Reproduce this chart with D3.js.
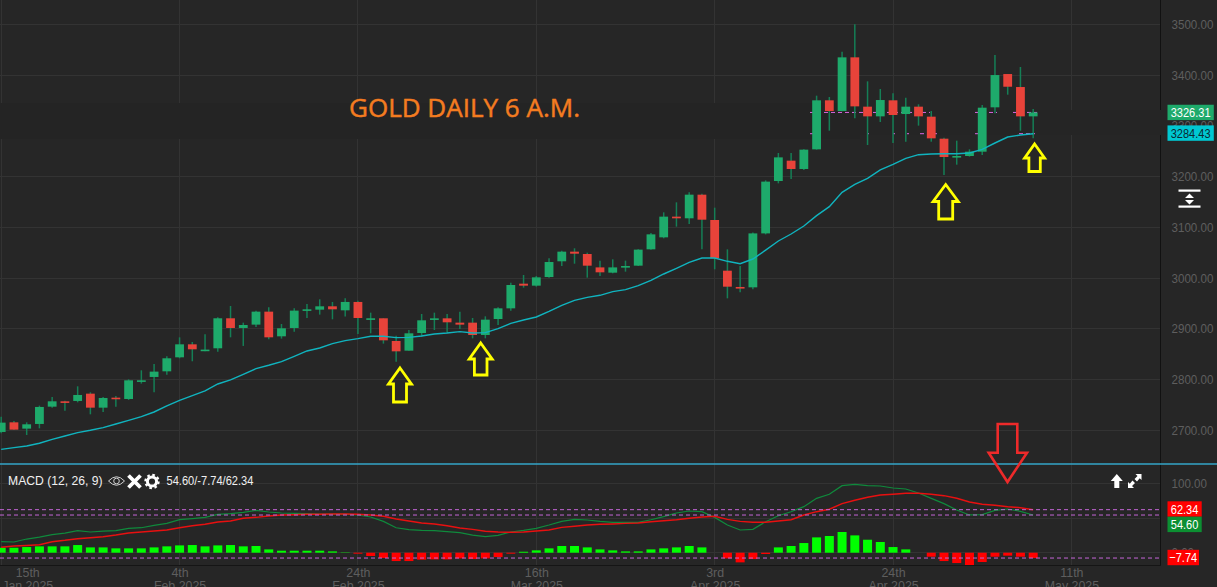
<!DOCTYPE html>
<html lang="en">
<head>
    <meta charset="UTF-8">
    <title>Gold Daily</title>
    <script src="https://cdn.jsdelivr.net/npm/d3@7/dist/d3.min.js"></script>
    <style>
        html, body { margin: 0; padding: 0; background: #262626; overflow: hidden; }
        svg { display: block; }
        text { font-family: "Liberation Sans", Arial, sans-serif; }
    </style>
</head>
<body>
<script>
    // candles
    var opens = [2696.7,2715.7,2703.3,2712.5,2746.6,2757.1,2757.8,2772.2,2744.6,2764.3,
        2761.7,2797.2,2805.1,2816.2,2843.8,2869.4,2857,2861.6,2920.7,2901.6,
        2908.2,2933.8,2885.2,2901.6,2936.4,2937.7,2944.3,2936.4,2952.9,2918.7,
        2920.7,2876,2856.9,2891.7,2918,2920.6,2912.1,2912.1,2887.8,2919.3,
        2940.3,2988.9,2985,3002,3033,3052,3047.4,3021,3010.6,3021.8,
        3024.4,3056.6,3080.2,3121,3117.7,3164.3,3114.4,3014.5,2982.4,2981.7,
        3088,3191.2,3231.3,3214.9,3253.6,3350.2,3329.1,3434.9,3337.7,3318.6,
        3350.2,3323.2,3337.7,3318,3274.6,3238.5,3240.5,3249,3336.4,3402,
        3376.4,3318.6];
    var closes = [2715.1,2701.3,2711.8,2746,2757.1,2755.1,2769.6,2744.6,2763.7,2762.4,
        2798.5,2798.5,2815.6,2841.9,2869.4,2859.6,2859,2920.7,2901.6,2907.5,
        2933.8,2883.2,2901,2935.8,2938.4,2944.3,2938.4,2952.9,2921.3,2920.7,
        2877.3,2855.6,2891.1,2916.7,2920.6,2912.8,2908.2,2887.8,2918,2940.3,
        2986.3,2985,3001.4,3031.6,3052,3048,3024.4,3011.3,3021,3023.7,
        3056,3086.1,3121,3117.7,3164.3,3115,3038.9,2983,2980.4,3088,
        3190,3237.8,3214.9,3253,3350.2,3329.1,3434.9,3338.3,3318.6,3350.8,
        3321.3,3337.7,3318.6,3275.3,3238.5,3240.5,3249,3335.7,3400,3377,
        3318.6,3326.31];
    var highs = [2726.9,2718.4,2715.7,2748.6,2765.7,2758.4,2786.7,2774.9,2765.7,2767.6,
        2800.5,2818.2,2830.7,2845.8,2883.2,2874,2889.1,2922.6,2945,2912.1,
        2935.8,2942.3,2909.5,2940.4,2948.9,2958.1,2952.9,2960.1,2955.5,2931.8,
        2920.7,2886.5,2897.6,2929.2,2931.8,2929.2,2933.8,2921.3,2924.6,2942.3,
        2990.9,3006,3004,3038.9,3054,3058.6,3050,3034.3,3036.9,3034.3,
        3056.6,3088.8,3129.5,3149.2,3168.9,3166.3,3138.7,3056.6,3023.7,3090,
        3192.5,3246.4,3246.4,3253.6,3359.4,3356.7,3446,3499.9,3387.6,3372.5,
        3364,3355.4,3342.3,3329.1,3276.6,3270.7,3253.6,3341,3439.5,3402,
        3415.8,3333];
    var lows = [2694.1,2701.3,2690.8,2703.9,2744.6,2738.7,2755.1,2731.5,2736.1,2746.6,
        2759.8,2792,2774.9,2809.7,2841.9,2836,2855.6,2855,2883.2,2866.2,
        2903.6,2879.3,2880.6,2894.4,2921.3,2927.9,2918.7,2924,2889.8,2891.1,
        2870.8,2835.3,2856.9,2884.5,2897.6,2892.4,2899.6,2881.2,2881.2,2907.5,
        2935.7,2981.1,2983,3000.8,3023.7,3028.3,3000.8,3004,3009.3,3012.6,
        3023.7,3056,3078.3,3101.3,3106.5,3056.6,3017.2,2960,2971.9,2978,
        3086,3186.6,3195.2,3212.9,3253,3290.4,3328.5,3314.7,3262.2,3307.5,
        3266.1,3268.7,3300.3,3268.7,3203,3223.4,3239.2,3242.4,3324.5,3361.3,
        3290.4,3275.3];
    var maValues = [2662.5,2665.8,2669.1,2674.4,2682.2,2688.8,2695.4,2700,2705.2,2712.5,
        2719.7,2726.9,2736.1,2747.9,2759.1,2768.3,2777.5,2791.3,2799.2,2810.3,
        2821.5,2828.1,2835.3,2845.8,2856.3,2862.2,2870.8,2876.7,2880.6,2885.2,
        2885.2,2882.6,2883.2,2885.8,2889.8,2891.7,2894.4,2891.7,2892.4,2900.3,
        2910.8,2917.4,2923.3,2934.4,2946.2,2956.1,2962,2966,2973.2,2977.1,
        2985,2995.5,3008,3019.2,3031,3039.5,3039.5,3033,3028.3,3037.5,
        3055,3073,3086.8,3102.6,3122.9,3140.6,3169,3184.6,3196.5,3213,
        3224,3235.9,3243.1,3244.4,3245,3245,3246.4,3253.6,3266.1,3277.9,
        3281.9,3284.43];

    // MACD panel
    var macdLine = [16,15.5,19.8,22.7,26.1,28.5,31.9,30,31.4,31.9,
        35.3,36.2,39.6,42.5,47.8,49.3,51.2,55.6,56.5,58.5,
        61.4,59,57.5,57,56.5,56,56,56,54.6,51.7,
        45.4,36.2,33.4,32.4,31.9,30.5,29,25.6,23.2,25.1,
        30,32.4,35.3,40.1,45.4,48.3,47.4,45.4,44,44,
        44,47.8,52.2,57.5,60.4,59.4,51.2,40.1,32.9,33.8,
        44.9,53.6,59.4,66.7,78.8,84.6,97.2,99.1,97.2,96.7,
        93.8,92.3,86.5,78.8,71.1,61.9,54.7,55.1,61.4,63.3,
        60,54.6];
    var signalLine = [7.8,9.7,10.6,11.6,16,17.9,20.3,21.8,23.2,25.6,
        28.5,30,31.4,32.9,36.2,39.2,41.1,44.5,45.9,49.8,
        51.2,53.2,54.6,55.1,55.6,55.6,56,56,55.6,54.6,
        52.7,48.8,45.9,43,41.6,39.2,35.8,33.8,31,30,
        29.5,30,31.4,32.9,36.7,38.2,40.1,41.1,41.6,42.5,
        43,44.9,46.4,47.8,49.8,51.7,52.7,48.3,45.4,44,
        44,45.9,47.8,54.7,59.5,62.9,71.1,75.9,80.3,83.6,
        84.6,86,86,84.6,82.7,78.8,73.5,70.1,68.7,66.7,
        65.3,62.34];
    var histogram = [7.2,7.2,8.2,9.2,9.2,9.2,11.1,7.7,7.7,6.3,
        6.3,6.3,7.7,9.2,10.6,11.1,9.2,10.6,11.1,9.2,
        9.7,4.8,2.9,2.9,2.9,2.9,1.9,0.5,-1.4,-4.8,
        -7.7,-12.1,-12.1,-10.1,-9.7,-9.7,-8.2,-9.2,-8.2,-6.3,
        -1.4,1.4,3.4,6.3,9.7,9.7,7.7,4.8,3.4,1.9,
        1.9,4.8,6.3,7.7,9.7,7.7,0,-8.2,-14,-9.2,
        -1.9,7.7,9.7,14,22.2,24.2,30,25.1,18.8,15.5,
        8.2,4.8,0,-5.8,-12.1,-15,-17.9,-13.5,-5.8,-4.3,
        -5.8,-7.74];

    var priceTicks = [2700,2800,2900,3000,3100,3200,3300,3400,3500];
    var macdGrid = [0,50,100];
    var macdLabels = [0,100];
    var dateTickIndex = [0,14,28,42,56,70,84];
    var dateTickDay = ["15th","4th","24th","16th","3rd","24th","11th"];
    var dateTickMonth = ["Jan 2025","Feb 2025","Feb 2025","Mar 2025","Apr 2025","Apr 2025","May 2025"];
    var lastClose = 3326.31, lastMa = 3284.43;
    var macdLast = 54.60, signalLast = 62.34, histLast = -7.74;

    var width = 1217, height = 587;
    var plotRight = 1160.5, panelBottom = 565;

    var svg = d3.select("body").append("svg")
        .attr("width", width)
        .attr("height", height);

    var x = d3.scaleLinear().domain([0, 84]).range([1.2, 1071.4]);
    var y = d3.scaleLinear().domain([2700, 3500]).range([430.3, 24.3]);
    var yMacd = d3.scaleLinear().domain([0, 100]).range([552.7, 483.7]);

    // the source screenshot is stretched a little in height, so text is narrowed to fit
    function squeeze(sel, ratio) {
        sel.each(function () {
            this.setAttribute("textLength", this.getComputedTextLength() * ratio);
            this.setAttribute("lengthAdjust", "spacingAndGlyphs");
        });
    }

    svg.append("rect").attr("width", width).attr("height", height).attr("fill", "#262626");

    // grid
    var grid = svg.append("g").attr("stroke", "#333333").attr("shape-rendering", "crispEdges");
    grid.selectAll(".vgrid").data(dateTickIndex).enter().append("line")
        .attr("x1", function (d) { return x(d); })
        .attr("x2", function (d) { return x(d); })
        .attr("y1", 0).attr("y2", panelBottom);
    grid.selectAll(".pgrid").data(priceTicks).enter().append("line")
        .attr("x1", 0).attr("x2", plotRight)
        .attr("y1", function (d) { return y(d); })
        .attr("y2", function (d) { return y(d); });
    grid.selectAll(".mgrid").data(macdGrid).enter().append("line")
        .attr("x1", 0).attr("x2", plotRight)
        .attr("y1", function (d) { return yMacd(d); })
        .attr("y2", function (d) { return yMacd(d); });

    // axis frame
    svg.append("line").attr("x1", plotRight).attr("x2", plotRight).attr("y1", 0).attr("y2", panelBottom)
        .attr("stroke", "#111111").attr("shape-rendering", "crispEdges");
    svg.append("line").attr("x1", 0).attr("x2", plotRight).attr("y1", panelBottom).attr("y2", panelBottom)
        .attr("stroke", "#151515").attr("shape-rendering", "crispEdges");

    // dark patches painted over the grid in the original screenshot
    svg.append("rect").attr("x", 0).attr("y", 103).attr("width", 860).attr("height", 36).attr("fill", "#242424");
    svg.append("rect").attr("x", 860).attr("y", 110).attr("width", 310).attr("height", 25).attr("fill", "#252525");

    // what is left of the two price level lines
    var closeLevelParts = [[810, 930], [975, 997], [1013, 1037]];
    var maLevelParts = [[810, 823], [867, 869], [893, 895], [907, 909], [920, 937], [975, 988], [1019, 1035]];
    function levelParts(parts, value) {
        svg.append("g").selectAll("line").data(parts).enter().append("line")
            .attr("x1", function (d) { return d[0]; })
            .attr("x2", function (d) { return d[1]; })
            .attr("y1", y(value)).attr("y2", y(value))
            .attr("stroke", "#d866e0").attr("stroke-dasharray", "4,3");
    }
    levelParts(closeLevelParts, lastClose);
    levelParts(maLevelParts, lastMa);

    // axes
    var priceAxis = d3.axisRight(y).tickValues(priceTicks).tickSize(0).tickPadding(0).tickFormat(d3.format(".2f"));
    var gPrice = svg.append("g").attr("transform", "translate(1171.5,0)").call(priceAxis);
    var macdAxis = d3.axisRight(yMacd).tickValues(macdLabels).tickSize(0).tickPadding(0).tickFormat(d3.format(".2f"));
    var gMacd = svg.append("g").attr("transform", "translate(1171.5,0)").call(macdAxis);
    var dateAxis = d3.axisBottom(x).tickValues(dateTickIndex).tickSize(0).tickPadding(0).tickFormat("");
    var gDate = svg.append("g").attr("transform", "translate(0," + panelBottom + ")").call(dateAxis);
    [gPrice, gMacd, gDate].forEach(function (g) {
        g.select(".domain").remove();
        g.attr("font-family", null).attr("font-size", null);
    });
    [gPrice, gMacd].forEach(function (g) {
        g.selectAll("text").attr("fill", "#5e5e5e").attr("font-size", "12.6px");
        squeeze(g.selectAll("text"), 0.92);
    });

    gDate.selectAll(".tick text").each(function (d, i) {
        var t = d3.select(this)
            .attr("fill", "#5e5e5e").attr("font-size", "12.4px").attr("dy", null).attr("y", 0);
        var dx = i === 0 ? 26 : 0;         // first label is pushed in so it is not cut by the edge
        t.append("tspan").attr("x", dx).attr("y", 12).text(dateTickDay[i]);
        t.append("tspan").attr("x", dx).attr("y", 24.5).text(dateTickMonth[i]);
    });

    var clipMain = svg.append("defs").append("clipPath").attr("id", "plot");
    clipMain.append("rect").attr("x", 0).attr("y", 0).attr("width", plotRight).attr("height", panelBottom);

    // candles
    var candleData = d3.range(opens.length);
    var candles = svg.append("g").attr("clip-path", "url(#plot)");
    candles.selectAll(".wick").data(candleData).enter().append("line")
        .attr("x1", function (i) { return x(i); })
        .attr("x2", function (i) { return x(i); })
        .attr("y1", function (i) { return y(highs[i]); })
        .attr("y2", function (i) { return y(lows[i]); })
        .attr("stroke", "#157f56").attr("stroke-width", 1.5);
    candles.selectAll(".body").data(candleData).enter().append("rect")
        .attr("x", function (i) { return x(i) - 4.4; })
        .attr("width", 8.8)
        .attr("y", function (i) { return y(Math.max(opens[i], closes[i])); })
        .attr("height", function (i) { return Math.max(1.6, Math.abs(y(opens[i]) - y(closes[i]))); })
        .attr("fill", function (i) { return closes[i] >= opens[i] ? "#1eaa6b" : "#e8433a"; });

    // moving average
    var maLine = d3.line().x(function (d, i) { return x(i); }).y(function (d) { return y(d); });
    svg.append("path").datum(maValues)
        .attr("clip-path", "url(#plot)")
        .attr("d", maLine).attr("fill", "none").attr("stroke", "#10b4bf").attr("stroke-width", 1.4);

    // MACD histogram
    svg.append("g").attr("clip-path", "url(#plot)")
        .selectAll("rect").data(histogram).enter().append("rect")
        .attr("x", function (d, i) { return x(i) - 4.5; })
        .attr("width", 9)
        .attr("y", function (d) { return yMacd(Math.max(0, d)); })
        .attr("height", function (d) { return Math.abs(yMacd(d) - yMacd(0)); })
        .attr("fill", function (d) { return d >= 0 ? "#00ff00" : "#ff0000"; });

    var macdPath = d3.line().x(function (d, i) { return x(i); }).y(function (d) { return yMacd(d); });
    svg.append("path").datum(macdLine).attr("clip-path", "url(#plot)")
        .attr("d", macdPath).attr("fill", "none").attr("stroke", "#0f8a3c").attr("stroke-width", 1.2);
    svg.append("path").datum(signalLine).attr("clip-path", "url(#plot)")
        .attr("d", macdPath).attr("fill", "none").attr("stroke", "#e81010").attr("stroke-width", 1.5);

    // MACD level lines
    svg.append("g").selectAll("line").data([signalLast, macdLast, histLast]).enter().append("line")
        .attr("x1", 0).attr("x2", plotRight)
        .attr("y1", function (d) { return yMacd(d); })
        .attr("y2", function (d) { return yMacd(d); })
        .attr("stroke", "#c566d8").attr("stroke-dasharray", "4,3");

    // value tags on the axis
    function tag(yMid, w, value, fill, textFill) {
        svg.append("rect").attr("x", 1167.5).attr("y", yMid - 7.7).attr("width", w).attr("height", 15.4).attr("fill", fill);
        var t = svg.append("text").attr("x", 1167.5 + w / 2).attr("y", yMid + 4.6)
            .attr("text-anchor", "middle").attr("font-size", "12.8px").attr("fill", textFill)
            .text(d3.format(".2f")(value));
        squeeze(t, 0.86);
    }
    tag(y(lastClose), 46.3, lastClose, "#1eaa6b", "#ffffff");
    tag(y(lastMa) - 0.6, 46.3, lastMa, "#00c8d2", "#0b2a33");
    tag(509, 34.2, signalLast, "#ff0000", "#ffffff");
    tag(524.4, 34.2, macdLast, "#0c8f32", "#ffffff");
    tag(557.5, 31.5, histLast, "#ff0000", "#ffffff");

    // divider between the panels
    svg.append("line").attr("x1", 0).attr("x2", width).attr("y1", 464).attr("y2", 464)
        .attr("stroke", "#35a6c8").attr("stroke-width", 1.6);

    // title and MACD legend
    svg.append("text").attr("x", 349).attr("y", 117)
        .style("font-family", "'Open Sans', sans-serif").attr("font-size", "25px").attr("font-weight", 400)
        .attr("fill", "#f47c20").attr("stroke", "#f47c20").attr("stroke-width", 0.45)
        .attr("textLength", 231).attr("lengthAdjust", "spacingAndGlyphs")
        .text("GOLD DAILY 6 A.M.");
    var legendName = svg.append("text").attr("x", 8).attr("y", 485).attr("font-size", "12.8px").attr("fill", "#f0f0f0")
        .text("MACD (12, 26, 9)");
    squeeze(legendName, 0.95);
    var legendValues = svg.append("text").attr("x", 166.5).attr("y", 485).attr("font-size", "12.6px").attr("fill", "#f0f0f0")
        .text("54.60/-7.74/62.34");
    squeeze(legendValues, 0.88);

    // eye, close and settings icons
    var icons = svg.append("g");
    icons.append("path").attr("d", "M108.5,481 Q116.5,472.5 124.5,481 Q116.5,489.5 108.5,481Z")
        .attr("fill", "none").attr("stroke", "#d0d0d0").attr("stroke-width", 1);
    icons.append("circle").attr("cx", 116.5).attr("cy", 481).attr("r", 2.8)
        .attr("fill", "none").attr("stroke", "#d0d0d0").attr("stroke-width", 1);
    icons.append("path").attr("d", "M128.5,475.5L140.5,487.5M140.5,475.5L128.5,487.5")
        .attr("stroke", "#ffffff").attr("stroke-width", 3.8);
    icons.append("circle").attr("cx", 152).attr("cy", 481.5).attr("r", 4.6)
        .attr("fill", "none").attr("stroke", "#ffffff").attr("stroke-width", 3);
    icons.append("circle").attr("cx", 152).attr("cy", 481.5).attr("r", 6.6)
        .attr("fill", "none").attr("stroke", "#ffffff").attr("stroke-width", 2.2).attr("stroke-dasharray", "2.6,2.6");

    // up arrow and expand icons in the panel corner
    icons.append("path").attr("d", "M1116.8,474 L1122.8,481 L1119.3,481 L1119.3,488 L1114.3,488 L1114.3,481 L1110.8,481Z")
        .attr("fill", "#ffffff");
    icons.append("path").attr("d", "M1128,482 L1128,488 L1134,488 L1132,486 L1135,483 L1132.5,480.5 L1129.8,483.8Z M1141.5,480 L1141.5,474 L1135.5,474 L1137.5,476 L1134.5,479 L1137,481.5 L1139.7,478.2Z")
        .attr("fill", "#ffffff");

    // autoscale icon on the price axis
    icons.append("rect").attr("x", 1178.5).attr("y", 189.5).attr("width", 22).attr("height", 2.2).attr("fill", "#ffffff");
    icons.append("rect").attr("x", 1178.5).attr("y", 205.5).attr("width", 22).attr("height", 2.2).attr("fill", "#ffffff");
    icons.append("path").attr("d", "M1189.5,193.5 L1194,198 L1185,198Z M1189.5,204.5 L1194,200 L1185,200Z").attr("fill", "#ffffff");

    // hand drawn arrows: tip, head half width, head height, shaft half width, total length
    var upArrows = [[400, 368, 11.5, 16, 6.5, 34], [480.7, 343, 11.5, 16, 6.3, 32],
        [945.7, 184.5, 12.6, 17, 7, 34.5], [1034.6, 144, 10, 14, 5.7, 27.5]];
    upArrows.forEach(function (a) {
        var tipX = a[0], tipY = a[1], hw = a[2], hh = a[3], sw = a[4], len = a[5];
        svg.append("path")
            .attr("d", d3.line()([[tipX, tipY], [tipX + hw, tipY + hh], [tipX + sw, tipY + hh], [tipX + sw, tipY + len],
                [tipX - sw, tipY + len], [tipX - sw, tipY + hh], [tipX - hw, tipY + hh]]) + "Z")
            .attr("fill", "none").attr("stroke", "#ffff00").attr("stroke-width", 2.8);
    });
    svg.append("path")
        .attr("d", d3.line()([[997.7, 424], [1017.3, 424], [1017.3, 452.7], [1027, 452.7], [1007.5, 482], [988.7, 452.7], [997.7, 452.7]]) + "Z")
        .attr("fill", "none").attr("stroke", "#ee2a2a").attr("stroke-width", 2.6);
</script>
</body>
</html>
